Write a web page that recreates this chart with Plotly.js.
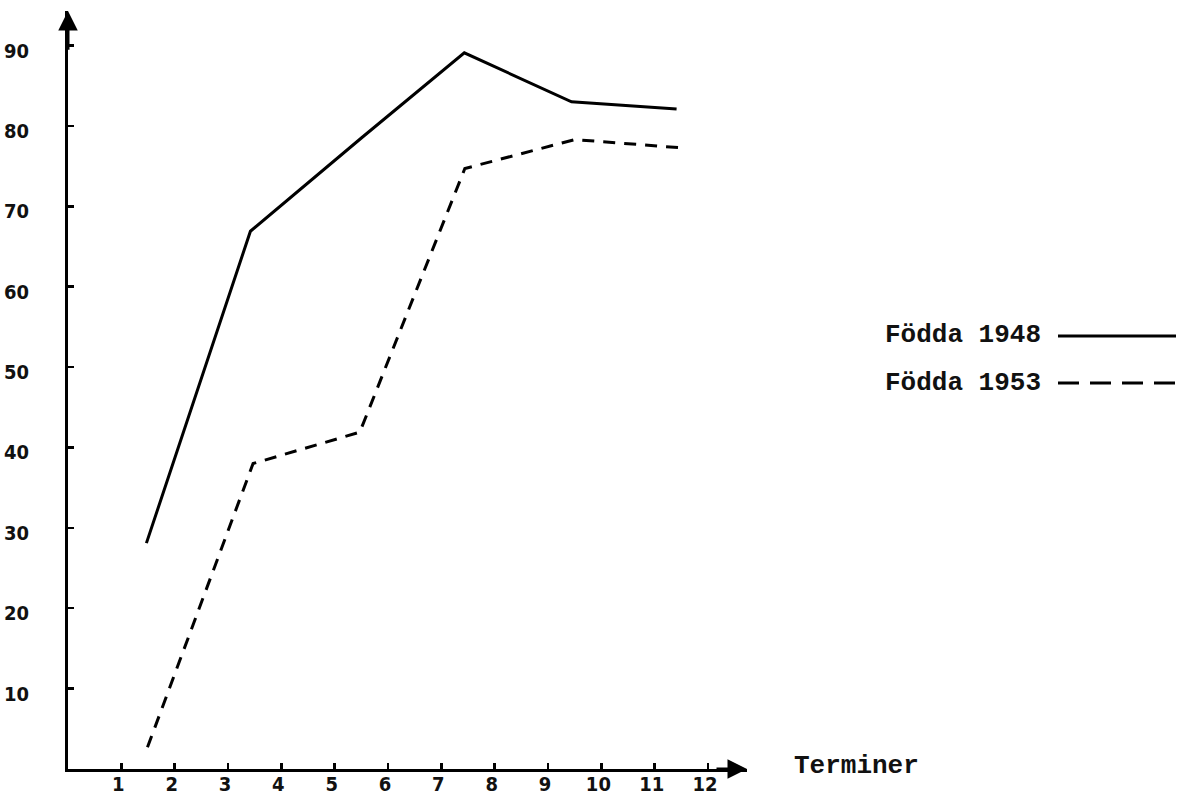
<!DOCTYPE html>
<html>
<head>
<meta charset="utf-8">
<script src="https://cdn.plot.ly/plotly-3.0.1.min.js"></script>
<style>
  html, body { margin: 0; padding: 0; background: #fff; }
  #chart { width: 1189px; height: 812px; }
</style>
</head>
<body>
<div id="chart"></div>
<script>
// ---- data ----
const seriesNames = ["Födda 1948", "Födda 1953"];
const x1948 = [1.47, 3.42, 5.5, 7.43, 9.44, 11.41];
const y1948 = [28.1, 66.9, 78.5, 89.1, 83.0, 82.1];
const x1953 = [1.49, 3.47, 5.47, 7.44, 9.5, 11.46];
const y1953 = [2.7, 38.0, 41.9, 74.7, 78.3, 77.3];
const xTicks = [1, 2, 3, 4, 5, 6, 7, 8, 9, 10, 11, 12];
const yTicks = [10, 20, 30, 40, 50, 60, 70, 80, 90];
const xAxisTitle = "Terminer";

// ---- geometry (pixels) ----
const W = 1189, H = 812;
const L = 68, R = 442, T = 11, B = 43;
const plotW = W - L - R, plotH = H - T - B;
const xMax = 12.73, yMax = 94.3;
const px = v => (v - L) / plotW;          // pixel -> paper x
const py = v => (H - B - v) / plotH;      // pixel -> paper y

const monoFont = { family: "Liberation Mono, Courier New, monospace", size: 26, color: "#111", weight: 700 };
const tickFont = { family: "DejaVu Sans Condensed, DejaVu Sans, sans-serif", size: 20, color: "#111", weight: 700 };

const traces = [
  { x: x1948, y: y1948, name: seriesNames[0], type: "scatter", mode: "lines",
    line: { color: "#000", width: 3 }, showlegend: false, hoverinfo: "skip" },
  { x: x1953, y: y1953, name: seriesNames[1], type: "scatter", mode: "lines",
    line: { color: "#000", width: 3, dash: "12px,9px" }, showlegend: false, hoverinfo: "skip" }
];

const layout = {
  width: W, height: H,
  margin: { l: L, r: R, t: T, b: B, pad: 0 },
  paper_bgcolor: "#fff", plot_bgcolor: "#fff",
  showlegend: false,
  xaxis: {
    range: [0, xMax], showgrid: false, zeroline: false,
    showline: true, linecolor: "#000", linewidth: 3,
    tickmode: "array", tickvals: xTicks, ticktext: xTicks.map(String),
    ticks: "inside", ticklen: 6, tickwidth: 2.5, tickcolor: "#000",
    tickfont: tickFont, ticklabelstandoff: -5, ticklabelshift: -3, fixedrange: true
  },
  yaxis: {
    range: [0, yMax], showgrid: false, zeroline: false,
    showline: true, linecolor: "#000", linewidth: 3,
    tickmode: "array", tickvals: yTicks, ticktext: yTicks.map(String),
    ticks: "inside", ticklen: 6, tickwidth: 2.5, tickcolor: "#000",
    tickfont: tickFont, ticklabelstandoff: 32, ticklabelshift: 5, fixedrange: true
  },
  annotations: [
    // axis arrowheads
    { x: xMax, y: 0, ax: xMax - 0.6, ay: 0, xref: "x", yref: "y", axref: "x", ayref: "y",
      text: "", showarrow: true, arrowhead: 2, arrowsize: 1.3, arrowwidth: 3, arrowcolor: "#000", standoff: 0 },
    { x: 0, y: yMax, ax: 0, ay: yMax - 5, xref: "x", yref: "y", axref: "x", ayref: "y",
      text: "", showarrow: true, arrowhead: 2, arrowsize: 1.3, arrowwidth: 3, arrowcolor: "#000", standoff: 0 },
    // x axis title
    { x: px(792), y: py(766), xref: "paper", yref: "paper", xanchor: "left", yanchor: "middle",
      text: xAxisTitle, showarrow: false, font: monoFont },
    // legend texts
    { x: px(883), y: py(335), xref: "paper", yref: "paper", xanchor: "left", yanchor: "middle",
      text: seriesNames[0], showarrow: false, font: monoFont },
    { x: px(883), y: py(383), xref: "paper", yref: "paper", xanchor: "left", yanchor: "middle",
      text: seriesNames[1], showarrow: false, font: monoFont }
  ],
  shapes: [
    { type: "line", xref: "paper", yref: "paper", x0: px(1058), x1: px(1176), y0: py(336), y1: py(336),
      line: { color: "#000", width: 3 } },
    { type: "line", xref: "paper", yref: "paper", x0: px(1058), x1: px(1176), y0: py(383), y1: py(383),
      line: { color: "#000", width: 3, dash: "21px,11px" } }
  ]
};

Plotly.newPlot("chart", traces, layout, { staticPlot: true, displayModeBar: false });
</script>
</body>
</html>
